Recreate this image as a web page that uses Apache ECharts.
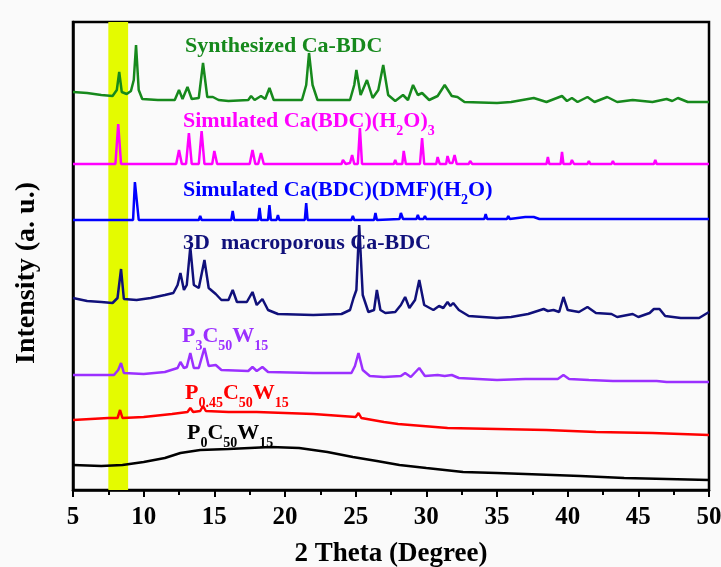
<!DOCTYPE html>
<html>
<head>
<meta charset="utf-8">
<script src="https://cdn.jsdelivr.net/npm/echarts@6/dist/echarts.min.js"></script>
<style>
  html, body { margin: 0; padding: 0; background: #fafafa; }
  #chart { width: 721px; height: 567px; }
</style>
</head>
<body>
<div id="chart"></div>
<script>
/* 2θ (degree), intensity (a. u., stacked offsets) */
const synthCaBDC = [
  [5,398],[6,397],[7,395],[7.8,394],[8.1,400],[8.27,418],[8.45,398],[8.8,396],[9.1,399],[9.3,410],[9.46,445],[9.65,400],
  [9.9,391],[11,390],[12.2,390],[12.5,400],[12.75,391],[13.1,403],[13.4,391],[13.9,392],[14.2,427],[14.5,393],[14.9,393],
  [15.3,390],[16,389],[17.4,390],[17.6,394],[17.85,390],[18.3,394],[18.6,391],[18.9,402],[19.2,390],[21.2,390],[21.5,405],
  [21.7,437],[21.95,405],[22.3,390],[24.6,390],[24.9,405],[25.05,420],[25.35,395],[25.8,410],[26.2,392],[26.6,400],
  [26.95,425],[27.3,395],[27.8,389],[28.35,395],[28.7,390],[29.06,405],[29.4,395],[29.7,397],[30.2,390],[30.8,394],
  [31.3,405],[31.8,394],[32.2,393],[32.7,388],[35,387],[36,388],[37.6,392],[38.5,388],[39.6,394],[39.95,389],[40.3,392],
  [40.7,388],[41.4,393],[41.9,388],[42.8,393],[43.5,388],[44.6,390],[46,388],[47,391],[47.4,389],[47.8,392],[48.5,388],[50,388]
];
const simH2O = [
  [5,326],[8,326],[8.2,366],[8.4,326],[12.3,326],[12.5,340],[12.7,326],[13,326],[13.2,357],[13.4,326],[13.9,326],[14.1,359],
  [14.3,326],[14.85,326],[15,339],[15.2,326],[17.5,326],[17.7,340],[17.9,326],[18.1,326],[18.3,337],[18.5,326],[20.6,326],
  [20.7,328],[20.8,326],[24,326],[24.1,330],[24.3,326],[24.6,327],[24.75,335],[24.9,326],[25.15,326],[25.3,362],[25.45,326],
  [27.7,326],[27.8,330],[27.9,326],[28.3,326],[28.4,339],[28.55,326],[29.55,326],[29.7,352],[29.85,326],[30.7,326],[30.8,333],
  [30.95,326],[31.4,326],[31.5,334],[31.65,327],[31.85,327],[32,335],[32.15,326],[33,326],[33.1,329],[33.25,326],[38.5,326],
  [38.6,333],[38.7,326],[39.5,326],[39.6,338],[39.7,326],[40.2,326],[40.3,330],[40.45,326],[41.4,326],[41.5,329],[41.6,326],
  [43.1,326],[43.2,329],[43.3,326],[46.1,326],[46.2,330],[46.3,326],[50,326]
];
const simDMF = [
  [5,270],[9.25,270],[9.38,308],[9.5,306],[9.65,270],[13.9,270],[14,274],[14.1,270],[16.2,270],[16.3,279],[16.4,270],
  [18.1,270],[18.2,282],[18.3,270],[18.8,270],[18.9,285],[19,270],[19.4,270],[19.5,275],[19.6,270],[21.4,270],[21.5,287],
  [21.6,270],[22.9,270],[23,272],[23.1,270],[24.7,270],[24.8,274],[24.9,270],[26.3,270],[26.4,277],[26.5,270],[28.1,271],
  [28.2,277],[28.35,271],[29.3,271],[29.4,275],[29.5,271],[29.8,271],[29.9,274],[30,271],[31.1,271],[31.2,273],[31.3,271],
  [34.1,271],[34.2,276],[34.3,271],[35.7,271],[35.8,274],[35.9,271],[37,273],[37.6,273],[38,271],[40.4,271],[40.5,273],
  [40.6,271],[44.1,271],[44.2,273],[44.3,271],[47.9,271],[48,273],[48.1,271],[50,271]
];
const macroCaBDC = [
  [5,192],[6,189],[7,188],[7.8,187],[8.15,192],[8.4,221],[8.6,191],[9.5,190],[10.5,192],[11.5,195],[12.1,197],[12.4,205],
  [12.6,217],[12.85,200],[13.05,205],[13.3,243],[13.55,205],[13.9,202],[14.3,230],[14.6,202],[15.1,196],[15.5,190],[16,190],
  [16.3,200],[16.6,188],[17.3,188],[17.7,198],[18,185],[18.4,191],[18.8,180],[19.5,176],[22,175],[24,176],[24.3,178],
  [24.6,180],[24.85,192],[25.05,200],[25.25,265],[25.5,195],[25.9,178],[26.3,180],[26.5,200],[26.75,180],[27.1,177],
  [27.8,178],[28.2,185],[28.5,193],[28.8,182],[29.2,190],[29.5,210],[29.85,185],[30.5,180],[30.9,184],[31.2,182],[31.5,188],
  [31.7,184],[31.9,187],[32.3,180],[33,174],[35,172],[36,173],[37.2,176],[38.3,181],[38.6,179],[39,180],[39.4,178],[39.7,193],
  [40,180],[40.8,178],[41.4,183],[42,177],[43.1,176],[43.5,173],[44.6,176],[45,173],[45.8,177],[46.1,181],[46.5,181],
  [46.9,174],[48,172],[49.3,172],[50,178]
];
const p3c50w15 = [
  [5,115],[7.9,115],[8.2,120],[8.4,127],[8.6,117],[10,116],[11.5,118],[12.4,122],[12.6,128],[12.85,122],[13.05,123],[13.3,137],
  [13.55,122],[13.9,122],[14.3,142],[14.6,124],[15.1,125],[15.5,120],[17.4,119],[17.7,123],[18,119],[18.4,123],[18.8,118],
  [22,117],[24.7,117],[24.95,124],[25.2,137],[25.5,120],[26,114],[27,113],[28.2,114],[28.5,117],[28.9,113],[29.5,122],
  [29.9,114],[30.8,115],[31.3,114],[31.8,115],[32.3,112],[35,110],[37,111],[39.3,111],[39.7,115],[40.1,111],[41.5,110],
  [43.2,109],[45.5,109],[46.3,109],[47,108],[50,108]
];
const p045c50w15 = [
  [5,70],[7.5,72],[8.15,72],[8.33,80],[8.5,72],[10,73],[12,76],[13.1,78],[13.3,82],[13.5,78],[14,79],[14.2,84],[14.4,79],
  [16,78],[18,78],[20,77],[22,76],[24,74],[25,73],[25.2,77],[25.4,72],[27,68],[28,66],[31.5,62],[35,61],[38.5,60],[42,58],
  [46,57],[50,55]
];
const p0c50w15 = [
  [5,25],[7,24],[8.5,25],[10,28],[11.5,32],[12.6,37],[14,40],[16,41],[19,43],[21,42],[23,38],[24.8,33],[26.5,29],[28.1,25],
  [30,22],[32.6,18],[35,17],[37,16],[40.9,14],[44,12],[47,11],[50,10]
];

const highlightBand = [7.5, 8.9];

/*曲线配置*/
const traces = [
  {data: synthCaBDC, color: "#16891c"},
  {data: simH2O, color: "#ff00ff"},
  {data: simDMF, color: "#0000ff"},
  {data: macroCaBDC, color: "#10107a"},
  {data: p3c50w15, color: "#9b30ff"},
  {data: p045c50w15, color: "#ff0000"},
  {data: p0c50w15, color: "#000000"},
];

/*标注文字 {m|..} 正常, {s|..} 下标*/
const labels = [
  {text: "{m|Synthesized Ca-BDC}", color: "#16891c", left: 185, top: 35},
  {text: "{m|Simulated Ca(BDC)(H}{s|2}{m|O)}{s|3}", color: "#ff00ff", left: 183, top: 110},
  {text: "{m|Simulated Ca(BDC)(DMF)(H}{s|2}{m|O)}", color: "#0000ff", left: 183, top: 179},
  {text: "{m|3D  macroporous Ca-BDC}", color: "#10107a", left: 183, top: 232},
  {text: "{m|P}{s|3}{m|C}{s|50}{m|W}{s|15}", color: "#9b30ff", left: 182, top: 325},
  {text: "{m|P}{s|0.45}{m|C}{s|50}{m|W}{s|15}", color: "#ff0000", left: 185, top: 382},
  {text: "{m|P}{s|0}{m|C}{s|50}{m|W}{s|15}", color: "#000000", left: 187, top: 422},
];

const serif = "Liberation Serif";

const chart = echarts.init(document.getElementById("chart"));

const series = traces.map(t => ({
  type: "line",
  data: t.data,
  symbol: "none",
  z: 3,
  lineStyle: {color: t.color, width: 2.5},
  itemStyle: {color: t.color},
}));

series.push({
  type: "line",
  data: [],
  z: 1,
  markArea: {
    silent: true,
    itemStyle: {color: "#e4fb00", opacity: 1},
    data: [[{xAxis: highlightBand[0]}, {xAxis: highlightBand[1]}]],
  },
});

const graphic = labels.map(l => ({
  type: "text",
  left: l.left,
  top: l.top,
  z: 10,
  style: {
    text: l.text,
    fill: l.color,
    rich: {
      m: {fontFamily: serif, fontWeight: "bold", fontSize: 22, lineHeight: 22, verticalAlign: "top", color: l.color},
      s: {fontFamily: serif, fontWeight: "bold", fontSize: 14, lineHeight: 14, padding: [14, 0, 0, 0], verticalAlign: "top", color: l.color},
    },
  },
}));

chart.setOption({
  backgroundColor: "#fafafa",
  animation: false,
  grid: {
    left: 73, right: 12, top: 22, bottom: 77,
    outerBoundsMode: "none",
    show: true, borderColor: "#000", borderWidth: 2.5,
  },
  xAxis: {
    type: "value",
    min: 5, max: 50, interval: 5,
    name: "2 Theta (Degree)",
    nameLocation: "middle",
    nameGap: 51,
    nameTextStyle: {fontFamily: serif, fontWeight: "bold", fontSize: 27, color: "#000"},
    axisLine: {lineStyle: {color: "#000", width: 2.5}},
    axisTick: {length: 7, lineStyle: {color: "#000", width: 2}},
    minorTick: {show: true, splitNumber: 2, length: 5, lineStyle: {color: "#000", width: 2}},
    axisLabel: {fontFamily: serif, fontWeight: "bold", fontSize: 25, color: "#000", margin: 15},
    splitLine: {show: false},
  },
  yAxis: {
    type: "value",
    min: 0, max: 468,
    name: "Intensity (a. u.)",
    nameLocation: "middle",
    nameRotate: 90,
    nameGap: 32,
    nameTextStyle: {fontFamily: serif, fontWeight: "bold", fontSize: 28, color: "#000", padding: [0, 34, 0, 0]},
    axisLine: {show: true, lineStyle: {color: "#000", width: 2.5}},
    axisTick: {show: false},
    axisLabel: {show: false},
    splitLine: {show: false},
  },
  series,
  graphic,
});
</script>
</body>
</html>
